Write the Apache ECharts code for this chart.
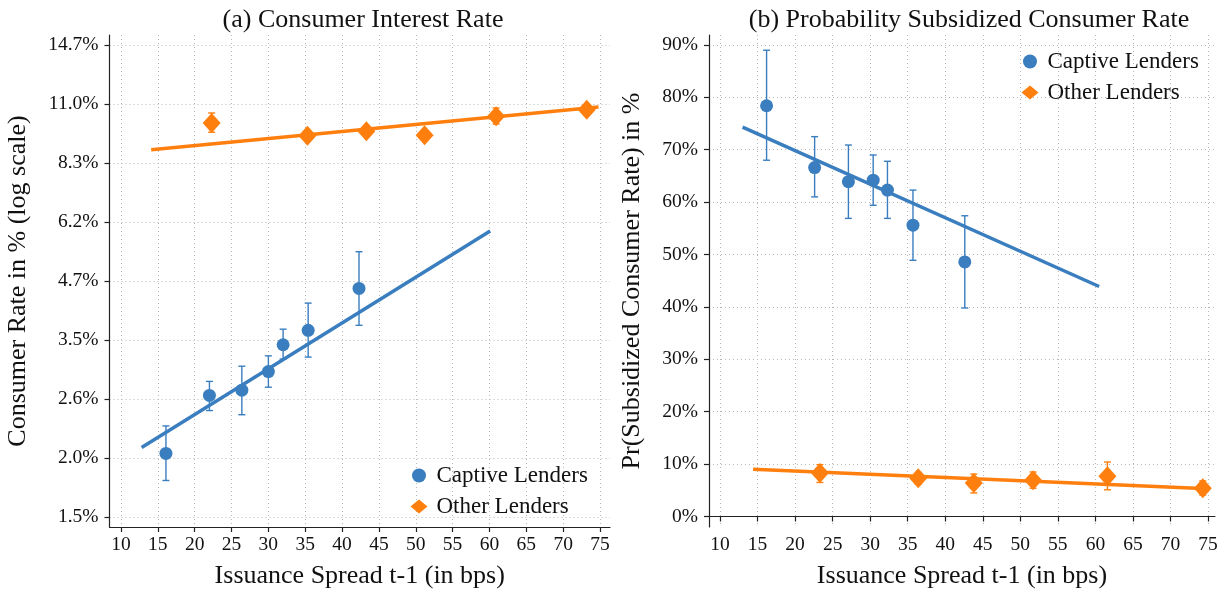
<!DOCTYPE html>
<html>
<head>
<meta charset="utf-8">
<script src="https://cdn.jsdelivr.net/npm/echarts@6/dist/echarts.min.js"></script>
<style>
html,body{margin:0;padding:0;background:#fff;}
#chart{width:1229px;height:594px;}
</style>
</head>
<body>
<div id="chart"></div>
<script>
// ---------- tick labels ----------
const xTicks = [10, 15, 20, 25, 30, 35, 40, 45, 50, 55, 60, 65, 70, 75];
const rateTickLabels = [1.5, 2.0, 2.6, 3.5, 4.7, 6.2, 8.3, 11.0, 14.7];
const probTicks = [0, 10, 20, 30, 40, 50, 60, 70, 80, 90];

// ---------- Panel (a): consumer interest rate (%) ----------
const captiveSpreadA = [16.1, 22.0, 26.4, 30.0, 32.0, 35.4, 42.3];
const captiveRateA   = [2.04, 2.70, 2.77, 3.03, 3.45, 3.70, 4.53];
const captiveRateLoA = [1.79, 2.51, 2.46, 2.81, 3.22, 3.25, 3.79];
const captiveRateHiA = [2.33, 2.89, 3.11, 3.27, 3.72, 4.22, 5.41];
const captiveFitSpreadA = [12.8, 60.1];
const captiveFitRateA   = [2.10, 5.98];

const otherSpreadA = [22.3, 35.3, 43.3, 51.2, 60.9, 73.2];
const otherRateA   = [10.08, 9.48, 9.68, 9.50, 10.41, 10.75];
const otherRateLoA = [9.64, 9.36, 9.56, 9.38, 10.03, 10.62];
const otherRateHiA = [10.58, 9.60, 9.80, 9.62, 10.84, 10.88];
const otherFitSpreadA = [14.1, 74.8];
const otherFitRateA   = [8.86, 10.89];

// ---------- Panel (b): probability subsidized (%) ----------
const captiveSpreadB = [16.2, 22.6, 27.1, 30.4, 32.3, 35.7, 42.6];
const captiveProbB   = [78.4, 66.6, 63.9, 64.2, 62.3, 55.6, 48.6];
const captiveProbLoB = [68.0, 61.0, 56.9, 59.4, 56.9, 48.9, 39.8];
const captiveProbHiB = [89.0, 72.5, 70.9, 69.0, 67.8, 62.3, 57.4];
const captiveFitSpreadB = [13.0, 60.5];
const captiveFitProbB   = [74.3, 43.9];

const otherSpreadB = [23.3, 36.4, 43.8, 51.7, 61.6, 74.3];
const otherProbB   = [8.3, 7.3, 6.4, 6.9, 7.7, 5.4];
const otherProbLoB = [6.5, 6.2, 4.5, 5.4, 5.1, 4.1];
const otherProbHiB = [9.9, 8.4, 8.1, 8.5, 10.4, 6.8];
const otherFitSpreadB = [14.4, 75.0];
const otherFitProbB   = [9.0, 5.3];

// ---------- helpers ----------
const BLUE = '#3a7ebf';
const ORANGE = '#ff7f0e';
const FONT = 'Liberation Serif';
const TXT = '#111';

const ln = Math.log;
// log-scale ticks: equally spaced in log between first and last label
const L0 = ln(rateTickLabels[0]);
const L1 = ln(rateTickLabels[rateTickLabels.length - 1]);
const Ld = (L1 - L0) / (rateTickLabels.length - 1);
const rateTickPos = rateTickLabels.map((_, i) => L0 + i * Ld);

const pts = (xs, ys, f) => xs.map((x, i) => [x, f ? f(ys[i]) : ys[i]]);
const errs = (xs, lo, hi, f) => xs.map((x, i) => [x, f ? f(lo[i]) : lo[i], f ? f(hi[i]) : hi[i]]);

function errRender(color) {
  return function (params, api) {
    const x = api.value(0), lo = api.value(1), hi = api.value(2);
    const a = api.coord([x, hi]);
    const b = api.coord([x, lo]);
    const w = 3.5;
    const style = { stroke: color, lineWidth: 1.4, fill: null };
    return {
      type: 'group',
      children: [
        { type: 'line', shape: { x1: a[0], y1: a[1], x2: b[0], y2: b[1] }, style },
        { type: 'line', shape: { x1: a[0] - w, y1: a[1], x2: a[0] + w, y2: a[1] }, style },
        { type: 'line', shape: { x1: b[0] - w, y1: b[1], x2: b[0] + w, y2: b[1] }, style }
      ]
    };
  };
}

const axisLineStyle = { color: '#222', width: 1.2 };
const gridLine = { show: true, lineStyle: { color: '#b8b8b8', width: 1, type: [1, 3] } };
const tickLabelStyle = { fontFamily: FONT, fontSize: 19.5, color: TXT };
const nameStyle = { fontFamily: FONT, fontSize: 26, color: TXT };

function xAxisCfg(gi, min, max) {
  return {
    type: 'value', gridIndex: gi, min: min, max: max,
    name: 'Issuance Spread t-1 (in bps)', nameLocation: 'middle', nameGap: 36,
    nameTextStyle: nameStyle,
    axisLine: { show: true, lineStyle: axisLineStyle },
    axisTick: { show: true, length: 5, lineStyle: axisLineStyle, customValues: xTicks },
    axisLabel: Object.assign({ margin: 8, customValues: xTicks, formatter: v => String(v) }, tickLabelStyle),
    splitLine: gridLine
  };
}

const legendText = { fontFamily: FONT, fontSize: 23, color: TXT, padding: [0, 0, 0, 4] };

const option = {
  backgroundColor: '#fff',
  animation: false,
  title: [
    { text: '(a) Consumer Interest Rate', left: 358, top: 2, textAlign: 'center',
      textStyle: { fontFamily: FONT, fontSize: 26, fontWeight: 'normal', color: TXT } },
    { text: '(b) Probability Subsidized Consumer Rate', left: 964, top: 2, textAlign: 'center',
      textStyle: { fontFamily: FONT, fontSize: 26, fontWeight: 'normal', color: TXT } }
  ],
  legend: [
    { data: [{ name: 'Captive Lenders', icon: 'circle' }, { name: 'Other Lenders', icon: 'diamond' }],
      orient: 'vertical', left: 405.5, top: 459, itemWidth: 17, itemHeight: 14, itemGap: 8,
      textStyle: legendText, selectedMode: false },
    { data: [{ name: 'Captive Lenders', icon: 'circle' }, { name: 'Other Lenders', icon: 'diamond' }],
      orient: 'vertical', left: 1016.5, top: 45, itemWidth: 17, itemHeight: 14, itemGap: 8,
      textStyle: legendText, selectedMode: false }
  ],
  grid: [
    { left: 109.5, top: 35, width: 500.5, height: 494, containLabel: false },
    { left: 709, top: 35, width: 506, height: 494, containLabel: false }
  ],
  xAxis: [
    xAxisCfg(0, 8.44, 76.36),
    xAxisCfg(1, 8.53, 75.93)
  ],
  yAxis: [
    {
      type: 'value', gridIndex: 0,
      min: L0 - 10 / 207.7, max: L1 + 10 / 207.7,
      name: 'Consumer Rate in % (log scale)', nameLocation: 'middle', nameGap: 78,
      nameTextStyle: nameStyle,
      axisLine: { show: true, lineStyle: axisLineStyle },
      axisTick: { show: true, length: 5, lineStyle: axisLineStyle, customValues: rateTickPos },
      axisLabel: Object.assign({
        margin: 11, customValues: rateTickPos,
        formatter: v => {
          const i = Math.round((v - L0) / Ld);
          return rateTickLabels[i].toFixed(1) + '%';
        }
      }, tickLabelStyle),
      splitLine: gridLine
    },
    {
      type: 'value', gridIndex: 1,
      min: -2.0, max: 91.9,
      name: 'Pr(Subsidized Consumer Rate) in %', nameLocation: 'middle', nameGap: 64,
      nameTextStyle: nameStyle,
      axisLine: { show: true, lineStyle: axisLineStyle },
      axisTick: { show: true, length: 5, lineStyle: axisLineStyle, customValues: probTicks },
      axisLabel: Object.assign({ margin: 11, customValues: probTicks, formatter: v => v + '%' }, tickLabelStyle),
      splitLine: gridLine
    }
  ],
  series: [
    // ----- panel (a) -----
    { type: 'line', name: 'fitCaptiveA', xAxisIndex: 0, yAxisIndex: 0, symbol: 'none',
      data: pts(captiveFitSpreadA, captiveFitRateA, ln), lineStyle: { color: BLUE, width: 3.5 }, z: 2 },
    { type: 'line', name: 'fitOtherA', xAxisIndex: 0, yAxisIndex: 0, symbol: 'none',
      data: pts(otherFitSpreadA, otherFitRateA, ln), lineStyle: { color: ORANGE, width: 3.5 }, z: 2 },
    { type: 'custom', name: 'errCaptiveA', xAxisIndex: 0, yAxisIndex: 0, renderItem: errRender(BLUE),
      data: errs(captiveSpreadA, captiveRateLoA, captiveRateHiA, ln), encode: { x: 0, y: [1, 2] }, z: 3 },
    { type: 'custom', name: 'errOtherA', xAxisIndex: 0, yAxisIndex: 0, renderItem: errRender(ORANGE),
      data: errs(otherSpreadA, otherRateLoA, otherRateHiA, ln), encode: { x: 0, y: [1, 2] }, z: 3 },
    { type: 'scatter', name: 'Captive Lenders', xAxisIndex: 0, yAxisIndex: 0, symbol: 'circle', symbolSize: 13,
      itemStyle: { color: BLUE, opacity: 1 }, data: pts(captiveSpreadA, captiveRateA, ln), z: 4 },
    { type: 'scatter', name: 'Other Lenders', xAxisIndex: 0, yAxisIndex: 0, symbol: 'diamond', symbolSize: [18, 20],
      itemStyle: { color: ORANGE, opacity: 1 }, data: pts(otherSpreadA, otherRateA, ln), z: 4 },
    // ----- panel (b) -----
    { type: 'line', name: 'fitCaptiveB', xAxisIndex: 1, yAxisIndex: 1, symbol: 'none',
      data: pts(captiveFitSpreadB, captiveFitProbB), lineStyle: { color: BLUE, width: 3.5 }, z: 2 },
    { type: 'line', name: 'fitOtherB', xAxisIndex: 1, yAxisIndex: 1, symbol: 'none',
      data: pts(otherFitSpreadB, otherFitProbB), lineStyle: { color: ORANGE, width: 3.5 }, z: 2 },
    { type: 'custom', name: 'errCaptiveB', xAxisIndex: 1, yAxisIndex: 1, renderItem: errRender(BLUE),
      data: errs(captiveSpreadB, captiveProbLoB, captiveProbHiB), encode: { x: 0, y: [1, 2] }, z: 3 },
    { type: 'custom', name: 'errOtherB', xAxisIndex: 1, yAxisIndex: 1, renderItem: errRender(ORANGE),
      data: errs(otherSpreadB, otherProbLoB, otherProbHiB), encode: { x: 0, y: [1, 2] }, z: 3 },
    { type: 'scatter', name: 'Captive Lenders', xAxisIndex: 1, yAxisIndex: 1, symbol: 'circle', symbolSize: 13,
      itemStyle: { color: BLUE, opacity: 1 }, data: pts(captiveSpreadB, captiveProbB), z: 4 },
    { type: 'scatter', name: 'Other Lenders', xAxisIndex: 1, yAxisIndex: 1, symbol: 'diamond', symbolSize: [18, 20],
      itemStyle: { color: ORANGE, opacity: 1 }, data: pts(otherSpreadB, otherProbB), z: 4 }
  ]
};

const chart = echarts.init(document.getElementById('chart'), null, { renderer: 'canvas' });
chart.setOption(option);
</script>
</body>
</html>
